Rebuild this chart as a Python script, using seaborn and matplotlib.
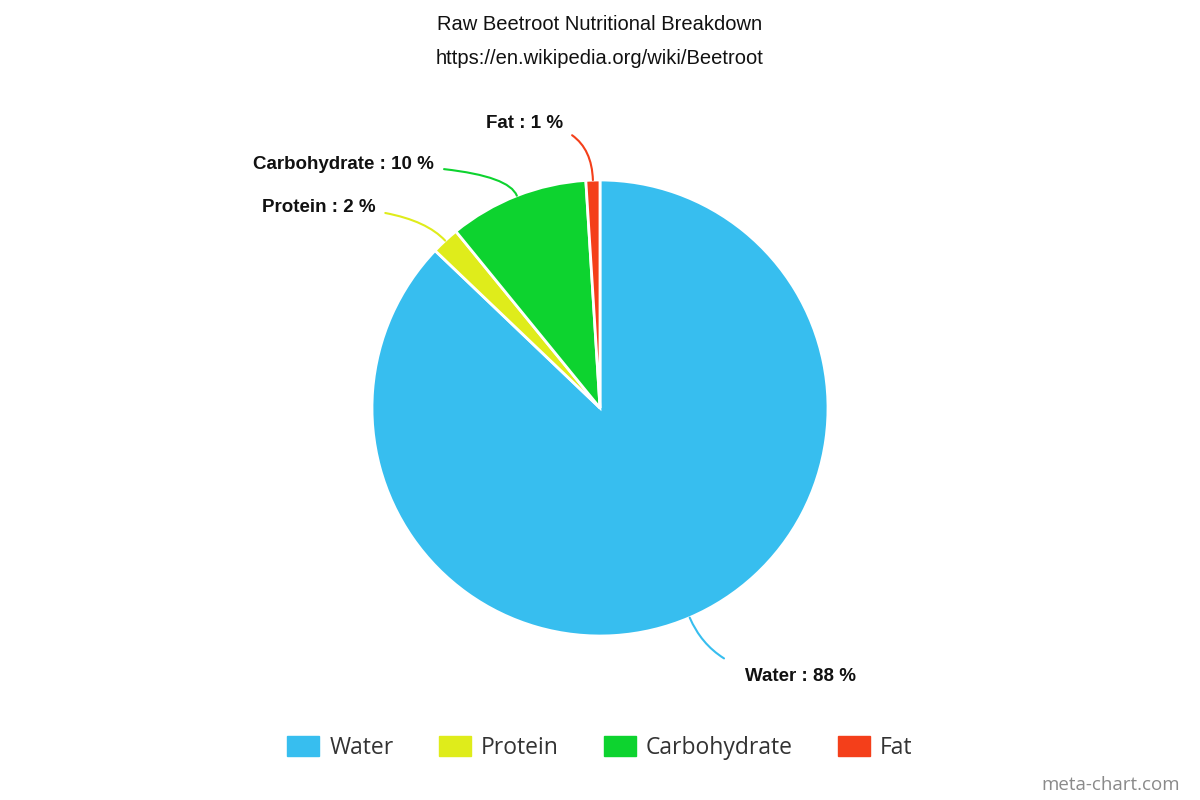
import numpy as np
import matplotlib
matplotlib.use("Agg")
import matplotlib.pyplot as plt
import seaborn as sns

# data
labels = ["Water", "Protein", "Carbohydrate", "Fat"]
values = [88, 2, 10, 1]
colors = ["#37BEEF", "#DFEC1B", "#0DD32F", "#F43F1A"]

# label offsets from the wedge edge (pixels) and text alignment
offsets = [(55, -59), (-70, 33), (-83, 31), (-30, 57)]
aligns = ["left", "right", "right", "right"]

sns.set_theme(style="white")
plt.rcParams["font.family"] = ["Liberation Sans", "DejaVu Sans"]

fig = plt.figure(figsize=(12, 8), dpi=100)
ax = fig.add_axes([0.25, 0.115, 0.5, 0.75])
pal = sns.color_palette(colors)

wedges, _ = ax.pie(values, colors=pal, startangle=90, counterclock=False,
                   radius=1, wedgeprops=dict(edgecolor="white", linewidth=2))
lim = 300 / 228
ax.set_xlim(-lim, lim)
ax.set_ylim(-lim, lim)
ax.set_aspect("equal")
ax.axis("off")

for w, lab, v, off, ha, c in zip(wedges, labels, values, offsets, aligns, pal):
    mid_deg = (w.theta1 + w.theta2) / 2
    mid = np.deg2rad(mid_deg)
    x, y = np.cos(mid), np.sin(mid)
    ax.annotate(f"{lab} : {v} %",
                xy=(x, y), xytext=off, textcoords="offset pixels",
                ha=ha, va="center", fontsize=13.5, fontweight="bold", color="#111111",
                arrowprops=dict(arrowstyle="-", color=c, lw=1.5,
                                shrinkA=14 if ha == "left" else 5, shrinkB=0,
                                connectionstyle=f"angle3,angleA=0,angleB={mid_deg:.1f}"))

fig.text(0.5, 1 - 25 / 800, "Raw Beetroot Nutritional Breakdown", ha="center", va="center",
         fontsize=14.5, color="#111111")
fig.text(0.5, 1 - 59 / 800, "https://en.wikipedia.org/wiki/Beetroot", ha="center", va="center",
         fontsize=14.5, color="#111111")

handles = [plt.Rectangle((0, 0), 1, 1, color=c) for c in pal]
fig.legend(handles, labels, loc="center", bbox_to_anchor=(0.5, 1 - 748 / 800), ncol=4,
           frameon=False, prop={"family": "Open Sans", "size": 16.5},
           handlelength=1.4, handleheight=1.0, handletextpad=0.45, columnspacing=1.95,
           labelcolor="#333333")

fig.text(1 - 20 / 1200, 1 - 785 / 800, "meta-chart.com", ha="right", va="center",
         fontsize=13.5, color="#8a8a8a", family="Open Sans")

fig.savefig("out.png", dpi=100, facecolor="white")
